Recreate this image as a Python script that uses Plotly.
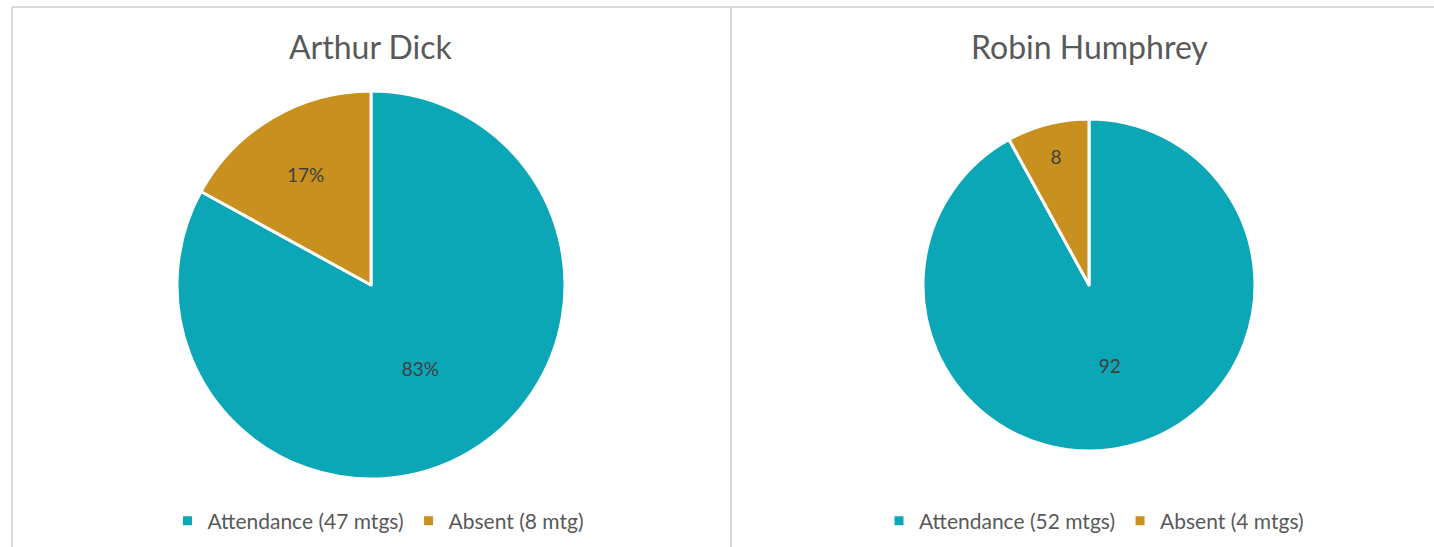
import plotly.graph_objects as go

W, H = 1434, 547


def px(sx):
    return sx / W


def py(sy):
    return 1 - sy / H


names = ["Arthur Dick", "Robin Humphrey"]
labels_left = ["Attendance (47 mtgs)", "Absent (8 mtg)"]
labels_right = ["Attendance (52 mtgs)", "Absent (4 mtgs)"]
values_left = [83, 17]
values_right = [92, 8]
colors = ["#0BA7B7", "#C8901E"]

FONT = "Lato, 'Open Sans', sans-serif"

fig = go.Figure()

fig.add_trace(go.Pie(
    labels=labels_left, values=values_left, sort=False, direction="clockwise", rotation=0,
    marker=dict(colors=colors, line=dict(color="white", width=3)),
    textinfo="percent", textposition="inside", insidetextorientation="horizontal",
    texttemplate="%{percent:.0%}",
    textfont=dict(family=FONT, size=19, color="#404040"),
    domain=dict(x=[px(11), px(731)], y=[py(479), py(91)]),
    legend="legend", hoverinfo="label+value+percent", showlegend=True,
))

fig.add_trace(go.Pie(
    labels=labels_right, values=values_right, sort=False, direction="clockwise", rotation=0,
    marker=dict(colors=colors, line=dict(color="white", width=3)),
    textinfo="value", textposition="inside", insidetextorientation="horizontal",
    textfont=dict(family=FONT, size=19, color="#404040"),
    domain=dict(x=[px(749), px(1429)], y=[py(451), py(119)]),
    legend="legend2", hoverinfo="label+value+percent", showlegend=True,
))

legend_common = dict(orientation="h", yanchor="middle", xanchor="center",
                     font=dict(family=FONT, size=21, color="#595959"),
                     bgcolor="rgba(0,0,0,0)")
fig.update_layout(
    width=W, height=H, autosize=False,
    margin=dict(l=0, r=0, t=0, b=0),
    paper_bgcolor="white", plot_bgcolor="white",
    font=dict(family=FONT, color="#595959"),
    legend=dict(x=px(378), y=py(521), **legend_common),
    legend2=dict(x=px(1094), y=py(521), **legend_common),
    annotations=[
        dict(text=names[0], x=px(371), y=py(46), xref="paper", yref="paper",
             showarrow=False, xanchor="center", yanchor="middle",
             font=dict(family=FONT, size=32, color="#595959")),
        dict(text=names[1], x=px(1089), y=py(46), xref="paper", yref="paper",
             showarrow=False, xanchor="center", yanchor="middle",
             font=dict(family=FONT, size=32, color="#595959")),
    ],
    shapes=[
        dict(type="line", xref="paper", yref="paper", x0=px(12), x1=1, y0=py(7), y1=py(7),
             line=dict(color="#D9D9D9", width=2)),
        dict(type="line", xref="paper", yref="paper", x0=px(12), x1=px(12), y0=0, y1=py(7),
             line=dict(color="#D9D9D9", width=2)),
        dict(type="line", xref="paper", yref="paper", x0=px(731), x1=px(731), y0=0, y1=py(7),
             line=dict(color="#D9D9D9", width=2)),
    ],
)

fig.write_html("out.html", config={"responsive": False, "displayModeBar": False},
               post_script="document.body.style.margin='0';document.body.style.overflow='hidden';")
